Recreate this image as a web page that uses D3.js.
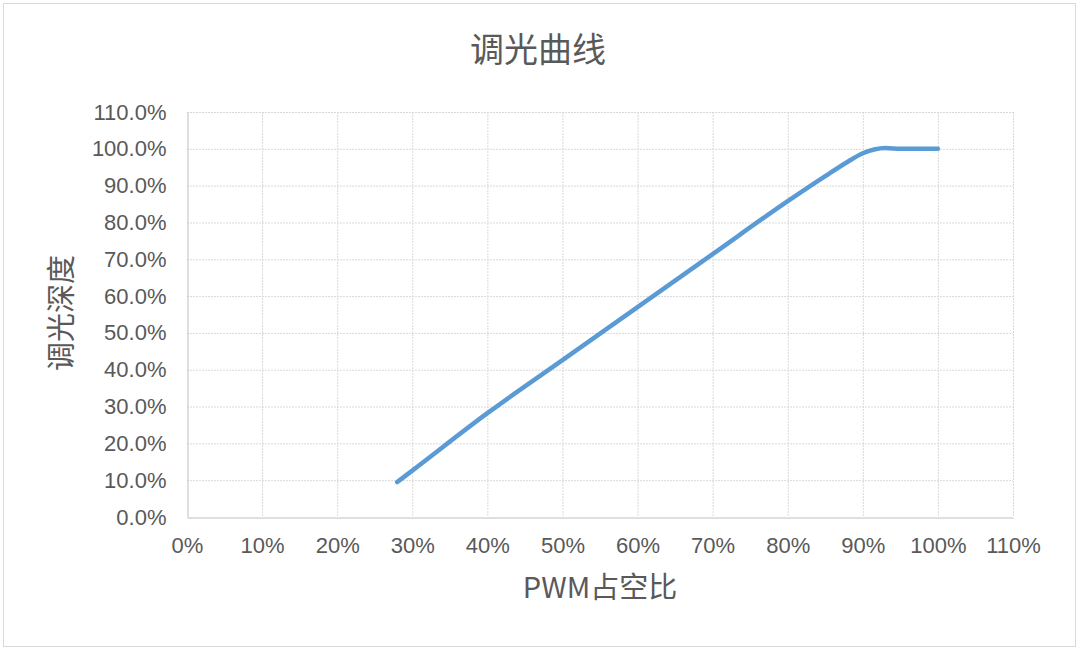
<!DOCTYPE html>
<html><head><meta charset="utf-8">
<script src="https://cdn.jsdelivr.net/npm/d3@7"></script>
<style>body{margin:0;background:#fff}svg{display:block}</style>
</head><body>
<svg id="c" width="1080" height="651"></svg>
<script>
const title = "调光曲线";
const xTitle = "PWM占空比";
const yTitle = "调光深度";
const xTicks = [0,10,20,30,40,50,60,70,80,90,100,110];
const yTicks = [0,10,20,30,40,50,60,70,80,90,100,110];
const pwm =   [28, 30, 40, 50, 60, 70, 80, 85, 88, 90, 91.5, 93, 95, 100];
const depth = [9.5, 12.6, 28.2, 42.6, 57.0, 71.4, 85.8, 92.6, 96.5, 98.8, 99.8, 100.2, 100.0, 100.0];

const svg = d3.select("#c");
const font = "'Liberation Sans','Noto Sans CJK SC',sans-serif";
const txt = "#595959";
svg.append("rect").attr("x",3.5).attr("y",3.5).attr("width",1072).attr("height",643)
  .attr("fill","#fff").attr("stroke","#d9d9d9").attr("stroke-width",1);

const L=187, R=1013, T=112, B=517;
const x = d3.scaleLinear().domain([0,110]).range([L,R]);
const y = d3.scaleLinear().domain([0,110]).range([B,T]);

// grid
svg.append("g").selectAll("line").data(yTicks.filter(d=>d>0)).join("line")
  .attr("x1",L).attr("x2",R).attr("y1",d=>y(d)+0.5).attr("y2",d=>y(d)+0.5)
  .attr("stroke","#d9d9d9").attr("stroke-dasharray","2,1");
svg.append("g").selectAll("line").data(xTicks.filter(d=>d>0)).join("line")
  .attr("y1",T).attr("y2",B).attr("x1",d=>x(d)+0.5).attr("x2",d=>x(d)+0.5)
  .attr("stroke","#d9d9d9").attr("stroke-dasharray","2,1");

// axes
const xa = svg.append("g").attr("transform",`translate(0,${B+0.5})`)
  .call(d3.axisBottom(x).tickValues(xTicks).tickFormat(d=>d+"%").tickSize(0).tickPadding(20));
const ya = svg.append("g").attr("transform",`translate(${L+0.5},0)`)
  .call(d3.axisLeft(y).tickValues(yTicks).tickFormat(d=>d.toFixed(1)+"%").tickSize(0).tickPadding(21));
[xa,ya].forEach(a=>{
  a.select(".domain").attr("stroke","#bfbfbf");
  a.selectAll("text").attr("fill",txt).style("font-family",font).style("font-size","22px");
});

// line
const pts = pwm.map((p,i)=>[p,depth[i]]);
svg.append("path").datum(pts)
  .attr("fill","none").attr("stroke","#5b9bd5").attr("stroke-width",4.5)
  .attr("stroke-linecap","round").attr("stroke-linejoin","round")
  .attr("d", d3.line().x(d=>x(d[0])).y(d=>y(d[1])).curve(d3.curveMonotoneX));

// titles
svg.append("text").attr("x",538).attr("y",62).attr("text-anchor","middle")
  .attr("fill",txt).style("font-family","'Noto Sans CJK SC',sans-serif").style("font-size","34px").text(title);
svg.append("text").attr("x",600).attr("y",598).attr("text-anchor","middle")
  .attr("fill",txt).style("font-family","'Noto Sans CJK SC',sans-serif").style("font-size","29px").text(xTitle);
svg.append("text").attr("transform","translate(72,313) rotate(-90)").attr("text-anchor","middle")
  .attr("fill",txt).style("font-family","'Noto Sans CJK SC',sans-serif").style("font-size","29px").text(yTitle);
</script>
</body></html>
